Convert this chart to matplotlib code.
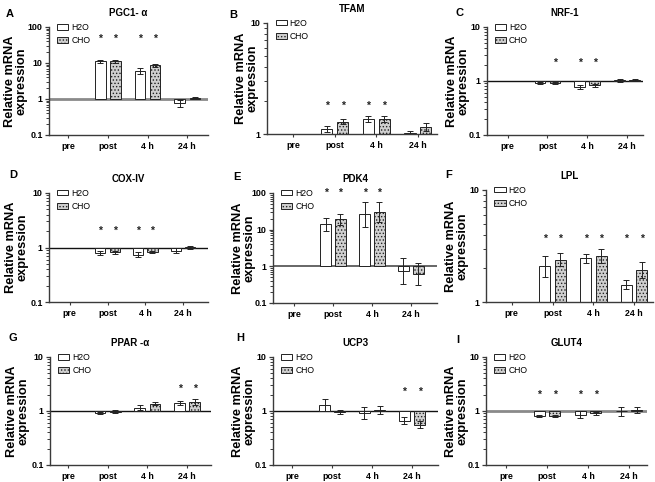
import numpy as np
import matplotlib
matplotlib.use('Agg')
import matplotlib.pyplot as plt
from matplotlib.patches import Patch
from matplotlib.ticker import LogLocator, FuncFormatter, NullFormatter

plt.rcParams['font.family'] = ['Liberation Sans', 'DejaVu Sans']
plt.rcParams['hatch.linewidth'] = 0.6
plt.rcParams['hatch.color'] = '#808080'

nan = float('nan')

categories = ['pre', 'post', '4 h', '24 h']
series = ['H2O', 'CHO']
genes = ['PGC1- α', 'TFAM', 'NRF-1', 'COX-IV', 'PDK4', 'LPL', 'PPAR -α', 'UCP3', 'GLUT4']
letters = ['A', 'B', 'C', 'D', 'E', 'F', 'G', 'H', 'I']

# mean relative expression (pre = 1, reference) and geometric error factors
pgc1a_h2o = [nan, 11.1, 6.0, 0.75]
pgc1a_cho = [nan, 11.1, 8.6, 1.09]
pgc1a_h2o_err = [nan, 1.11, 1.23, 1.22]
pgc1a_cho_err = [nan, 1.11, 1.10, 1.04]

tfam_h2o = [nan, 1.11, 1.37, 1.02]
tfam_cho = [nan, 1.29, 1.37, 1.16]
tfam_h2o_err = [nan, 1.07, 1.065, 1.035]
tfam_cho_err = [nan, 1.055, 1.065, 1.09]

nrf1_h2o = [nan, 0.92, 0.77, 1.03]
nrf1_cho = [nan, 0.91, 0.83, 1.04]
nrf1_h2o_err = [nan, 1.05, 1.08, 1.07]
nrf1_cho_err = [nan, 1.04, 1.05, 1.03]

cox4_h2o = [nan, 0.80, 0.74, 0.88]
cox4_cho = [nan, 0.82, 0.83, 1.01]
cox4_h2o_err = [nan, 1.08, 1.10, 1.09]
cox4_cho_err = [nan, 1.07, 1.04, 1.06]

pdk4_h2o = [nan, 14.0, 26.0, 0.73]
pdk4_cho = [nan, 19.0, 30.0, 0.62]
pdk4_h2o_err = [nan, 1.50, 2.25, 2.25]
pdk4_cho_err = [nan, 1.38, 1.85, 1.95]

lpl_h2o = [nan, 2.08, 2.46, 1.43]
lpl_cho = [nan, 2.38, 2.57, 1.93]
lpl_h2o_err = [nan, 1.24, 1.10, 1.09]
lpl_cho_err = [nan, 1.14, 1.15, 1.17]

ppara_h2o = [nan, 0.92, 1.14, 1.41]
ppara_cho = [nan, 0.97, 1.37, 1.47]
ppara_h2o_err = [nan, 1.04, 1.11, 1.08]
ppara_cho_err = [nan, 1.07, 1.07, 1.13]

ucp3_h2o = [nan, 1.29, 0.92, 0.66]
ucp3_cho = [nan, 0.97, 1.05, 0.56]
ucp3_h2o_err = [nan, 1.27, 1.30, 1.15]
ucp3_cho_err = [nan, 1.09, 1.20, 1.15]

glut4_h2o = [nan, 0.80, 0.86, 0.99]
glut4_cho = [nan, 0.80, 0.90, 1.05]
glut4_h2o_err = [nan, 1.05, 1.18, 1.22]
glut4_cho_err = [nan, 1.05, 1.06, 1.13]

# significance markers (1 = *) and their height
pgc1a_star_h2o = [0, 1, 1, 0]; pgc1a_star_cho = [0, 1, 1, 0]; pgc1a_star_y = 47
tfam_star_h2o = [0, 1, 1, 0];  tfam_star_cho = [0, 1, 1, 0];  tfam_star_y = 1.8
nrf1_star_h2o = [0, 0, 1, 0];  nrf1_star_cho = [0, 1, 1, 0];  nrf1_star_y = 2.2
cox4_star_h2o = [0, 1, 1, 0];  cox4_star_cho = [0, 1, 1, 0];  cox4_star_y = 2.05
pdk4_star_h2o = [0, 1, 1, 0];  pdk4_star_cho = [0, 1, 1, 0];  pdk4_star_y = 100
lpl_star_h2o = [0, 1, 1, 1];   lpl_star_cho = [0, 1, 1, 1];   lpl_star_y = 3.7
ppara_star_h2o = [0, 0, 0, 1]; ppara_star_cho = [0, 0, 0, 1]; ppara_star_y = 2.6
ucp3_star_h2o = [0, 0, 0, 1];  ucp3_star_cho = [0, 0, 0, 1];  ucp3_star_y = 2.3
glut4_star_h2o = [0, 1, 1, 0]; glut4_star_cho = [0, 1, 1, 0]; glut4_star_y = 2.03

ylims = [(0.1, 100), (1, 10), (0.1, 10), (0.1, 10), (0.1, 100), (1, 10),
         (0.1, 10), (0.1, 10), (0.1, 10)]

panels = [
    (pgc1a_h2o, pgc1a_cho, pgc1a_h2o_err, pgc1a_cho_err, pgc1a_star_h2o, pgc1a_star_cho, pgc1a_star_y),
    (tfam_h2o, tfam_cho, tfam_h2o_err, tfam_cho_err, tfam_star_h2o, tfam_star_cho, tfam_star_y),
    (nrf1_h2o, nrf1_cho, nrf1_h2o_err, nrf1_cho_err, nrf1_star_h2o, nrf1_star_cho, nrf1_star_y),
    (cox4_h2o, cox4_cho, cox4_h2o_err, cox4_cho_err, cox4_star_h2o, cox4_star_cho, cox4_star_y),
    (pdk4_h2o, pdk4_cho, pdk4_h2o_err, pdk4_cho_err, pdk4_star_h2o, pdk4_star_cho, pdk4_star_y),
    (lpl_h2o, lpl_cho, lpl_h2o_err, lpl_cho_err, lpl_star_h2o, lpl_star_cho, lpl_star_y),
    (ppara_h2o, ppara_cho, ppara_h2o_err, ppara_cho_err, ppara_star_h2o, ppara_star_cho, ppara_star_y),
    (ucp3_h2o, ucp3_cho, ucp3_h2o_err, ucp3_cho_err, ucp3_star_h2o, ucp3_star_cho, ucp3_star_y),
    (glut4_h2o, glut4_cho, glut4_h2o_err, glut4_cho_err, glut4_star_h2o, glut4_star_cho, glut4_star_y),
]

# layout in pixels: left, top, right, bottom, xlo, xhi
W, H = 655, 482
layout = [
    (49, 27, 208, 135, -0.48, 3.52),
    (267, 23, 437, 134, -0.63, 3.46),
    (487, 27, 643, 135, -0.52, 3.40),
    (49, 193, 208, 302, -0.55, 3.66),
    (273, 193, 437, 303, -0.54, 3.67),
    (486, 190, 653, 302, -0.63, 3.46),
    (50, 357, 211, 465, -0.45, 3.60),
    (273, 357, 438, 465, -0.48, 3.65),
    (486, 357, 647, 465, -0.49, 3.44),
]
letter_pos = [(10, 14), (233, 15), (459, 13), (13, 175), (237, 177), (449, 175),
              (13, 338), (240, 338), (458, 340)]
ylabel_x = [16, 247, 458, 17, 244, 457, 18, 244, 457]
baseline_style = [('#8a8a8a', 2.0), None, ('#111111', 1.0), ('#111111', 1.0),
                  ('#666666', 1.4), None, ('#111111', 1.0), ('#111111', 1.0),
                  ('#8a8a8a', 2.0)]

fig = plt.figure(figsize=(W / 100, H / 100), dpi=100)

bw = 0.27
off = 0.19
x = np.arange(len(categories))
spine_col = '#3a3a3a'

for i, (data, lay) in enumerate(zip(panels, layout)):
    h2o, cho, eh, ec, sh, sc, sy = data
    l, t, r, b, xlo, xhi = lay
    ax = fig.add_axes([l / W, 1 - b / H, (r - l) / W, (b - t) / H])
    ax.set_yscale('log')
    ax.set_ylim(*ylims[i])
    ax.set_xlim(xlo, xhi)

    bs = baseline_style[i]
    if bs is not None:
        ax.axhline(1, color=bs[0], lw=bs[1], zorder=1)

    for vals, errs, xs, fc, hatch in [(h2o, eh, x - off, 'white', None),
                                      (cho, ec, x + off, '#cfcfcf', '.....')]:
        v = np.array(vals, dtype=float)
        f = np.array(errs, dtype=float)
        ax.bar(xs, v - 1, bottom=1, width=bw, color=fc, edgecolor='#222222',
               linewidth=0.7, hatch=hatch, zorder=2)
        lo = v - v / f
        hi = v * f - v
        ax.errorbar(xs, v, yerr=[lo, hi], fmt='none', ecolor='#222222',
                    elinewidth=0.7, capsize=2, capthick=0.7, zorder=3)

    for j in range(len(categories)):
        if sh[j]:
            ax.text(x[j] - off, sy, '*', ha='center', va='center', fontsize=7.5,
                    fontweight='bold', color='#222222')
        if sc[j]:
            ax.text(x[j] + off, sy, '*', ha='center', va='center', fontsize=7.5,
                    fontweight='bold', color='#222222')

    for s in ['top', 'right']:
        ax.spines[s].set_visible(False)
    for s in ['left', 'bottom']:
        ax.spines[s].set_color(spine_col)
        ax.spines[s].set_linewidth(1.0)

    ax.yaxis.set_major_locator(LogLocator(base=10, numticks=10))
    ax.yaxis.set_minor_locator(LogLocator(base=10, subs=np.arange(2, 10), numticks=20))
    ax.yaxis.set_major_formatter(FuncFormatter(lambda v, p: '%g' % v))
    ax.yaxis.set_minor_formatter(NullFormatter())
    ax.tick_params(axis='y', which='major', length=3, width=0.9, color=spine_col,
                   labelsize=6.4, pad=1.5)
    ax.tick_params(axis='y', which='minor', length=2, width=0.7, color=spine_col)
    for lab in ax.get_yticklabels():
        lab.set_fontweight('bold')

    ax.set_xticks(x)
    ax.set_xticklabels(categories, fontsize=6.4, fontweight='bold')
    ax.tick_params(axis='x', length=2, width=0.8, color=spine_col, pad=3)

    ax.set_title(genes[i], fontsize=7, fontweight='bold', pad=8)

    handles = [Patch(facecolor='white', edgecolor='#222222', linewidth=0.7),
               Patch(facecolor='#cfcfcf', edgecolor='#222222', linewidth=0.7, hatch='.....')]
    ax.legend(handles, series, loc='upper left', bbox_to_anchor=(0.05, 1.04),
              frameon=False, fontsize=6.2, handlelength=1.3, handleheight=0.65,
              handletextpad=0.35, labelspacing=0.5, borderaxespad=0, borderpad=0)

    fig.text(ylabel_x[i] / W, 1 - ((t + b) / 2) / H, 'Relative mRNA\nexpression',
             rotation=90, ha='center', va='center', fontsize=9.2, fontweight='bold',
             linespacing=0.95)
    lx, ly = letter_pos[i]
    fig.text(lx / W, 1 - ly / H, letters[i], ha='center', va='center',
             fontsize=8, fontweight='bold')

fig.savefig('out.png', dpi=100)
